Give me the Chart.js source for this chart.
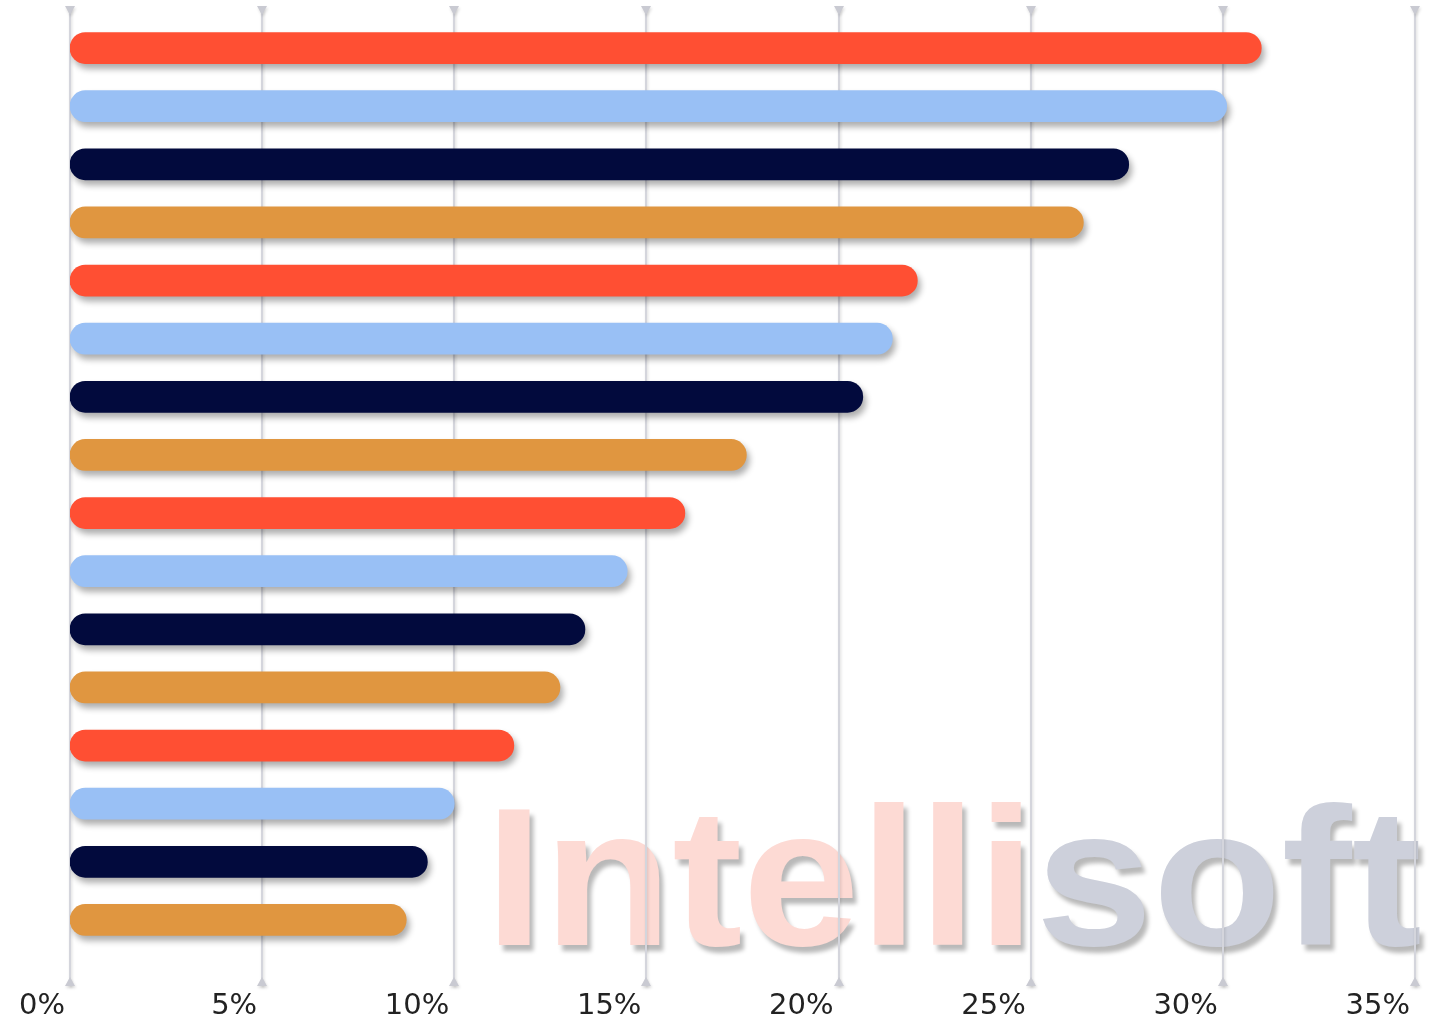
<!DOCTYPE html>
<html>
<head>
<meta charset="utf-8">
<script src="https://cdn.jsdelivr.net/npm/chart.js@4"></script>
<style>
  html, body { margin: 0; padding: 0; background: #fff; }
  canvas { display: block; }
</style>
</head>
<body>
<canvas id="barChart" width="1440" height="1021"></canvas>
<script>
// values (percent), top bar first
var ranks = ["1", "2", "3", "4", "5", "6", "7", "8", "9", "10", "11", "12", "13", "14", "15", "16"];
var shares = [31.0, 30.1, 27.55, 26.37, 22.05, 21.4, 20.63, 17.6, 16.0, 14.5, 13.4, 12.75, 11.55, 10.0, 9.3, 8.75];
var xTicks = [0, 5, 10, 15, 20, 25, 30, 35];
var palette = ["#ff4f33", "#99c0f5", "#020a3d", "#e09640"];

var barColors = [];
for (var i = 0; i < shares.length; i++) barColors[i] = palette[i % palette.length];

// big "Intellisoft" watermark behind everything
var watermark = {
  id: "watermark",
  beforeDraw: function (chart) {
    var ctx = chart.ctx;
    ctx.save();
    ctx.font = "bold 196px 'Liberation Sans', Arial, sans-serif";
    ctx.textBaseline = "alphabetic";
    var w1 = ctx.measureText("Intelli").width;
    var w2 = ctx.measureText("soft").width;
    var sx = 937 / (w1 + w2);
    ctx.translate(485, 945);
    ctx.scale(sx, 1);
    ctx.shadowColor = "rgba(0,0,0,0.28)";
    ctx.shadowOffsetX = 4;
    ctx.shadowOffsetY = 6;
    ctx.shadowBlur = 4;
    ctx.fillStyle = "#fddad4";
    ctx.fillText("Intelli", 0, 0);
    ctx.fillStyle = "#cdd0db";
    ctx.fillText("soft", w1, 0);
    ctx.restore();
  }
};

// vertical grid lines with little arrow heads, and shadows under the bars
var gridAndShadow = {
  id: "gridAndShadow",
  beforeDatasetsDraw: function (chart) {
    var ctx = chart.ctx;
    var x = chart.scales.x;
    var top = chart.chartArea.top - 13;
    var bottom = chart.chartArea.bottom + 37;
    ctx.save();
    ctx.shadowColor = "rgba(0,0,0,0.15)";
    ctx.shadowOffsetX = 1;
    ctx.shadowOffsetY = 2;
    ctx.shadowBlur = 3;
    xTicks.forEach(function (v) {
      var px = Math.round(x.getPixelForValue(v));
      ctx.strokeStyle = "#d4d5dc";
      ctx.lineWidth = 2;
      ctx.beginPath();
      ctx.moveTo(px, top);
      ctx.lineTo(px, bottom);
      ctx.stroke();
      ctx.fillStyle = "#c9cad2";
      ctx.beginPath();
      ctx.moveTo(px - 5, top);
      ctx.lineTo(px + 5, top);
      ctx.lineTo(px, top + 9);
      ctx.closePath();
      ctx.fill();
      ctx.beginPath();
      ctx.moveTo(px - 5, bottom);
      ctx.lineTo(px + 5, bottom);
      ctx.lineTo(px, bottom - 9);
      ctx.closePath();
      ctx.fill();
    });
    ctx.restore();

    ctx.save();
    ctx.shadowColor = "rgba(0,0,0,0.32)";
    ctx.shadowOffsetX = 3;
    ctx.shadowOffsetY = 5;
    ctx.shadowBlur = 6;
  },
  afterDatasetsDraw: function (chart) {
    chart.ctx.restore();
  }
};

var canvas = document.getElementById("barChart");
var barChart = new Chart(canvas, {
  type: "bar",
  data: {
    labels: ranks,
    datasets: [{
      data: shares,
      backgroundColor: barColors,
      borderWidth: 0,
      borderRadius: 16,
      borderSkipped: false,
      barThickness: 31
    }]
  },
  options: {
    indexAxis: "y",
    responsive: false,
    animation: false,
    devicePixelRatio: 1,
    layout: { padding: { left: 70, right: 25, top: 19, bottom: 0 } },
    plugins: {
      legend: { display: false },
      tooltip: { enabled: false }
    },
    scales: {
      y: { display: false },
      x: {
        min: 0,
        max: 35,
        afterFit: function (scale) {
          scale.height = 72;
          scale.paddingLeft = 0;
          scale.paddingRight = 0;
        },
        afterBuildTicks: function (scale) {
          scale.ticks = xTicks.map(function (v) { return { value: v }; });
        },
        grid: { display: false, drawTicks: false },
        border: { display: false },
        ticks: {
          align: "end",
          padding: 40,
          labelOffset: -5,
          maxRotation: 0,
          autoSkip: false,
          color: "#222",
          font: { family: "'DejaVu Sans', Verdana, sans-serif", size: 29 },
          callback: function (v) { return v + "%"; }
        }
      }
    }
  },
  plugins: [watermark, gridAndShadow]
});
</script>
</body>
</html>
